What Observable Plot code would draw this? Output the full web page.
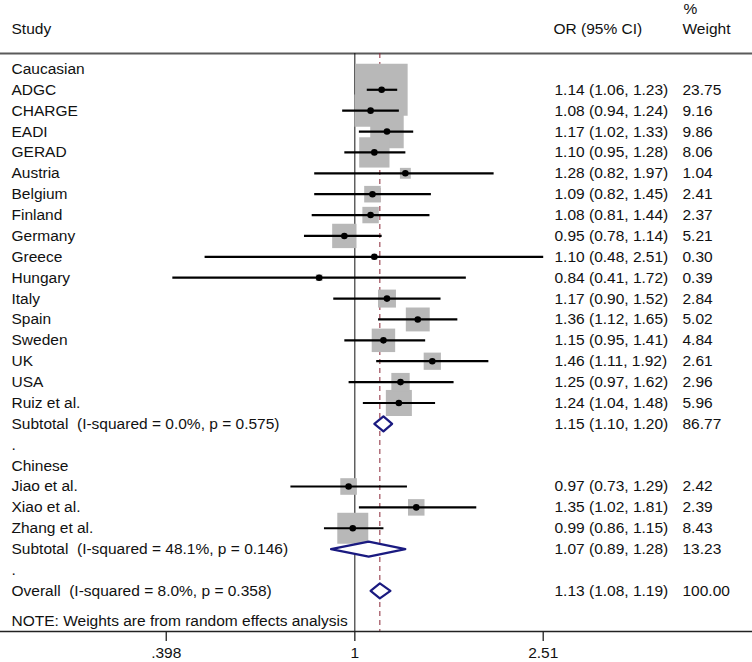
<!DOCTYPE html>
<html>
<head>
<meta charset="utf-8">
<script src="https://cdn.jsdelivr.net/npm/d3@7"></script>
<script src="https://cdn.jsdelivr.net/npm/@observablehq/plot@0.6"></script>
<style>
  html, body { margin: 0; padding: 0; background: #fff; }
  #chart svg { display: block; }
</style>
</head>
<body>
<div id="chart"></div>
<script>
// ---- data (row order top to bottom) ----
const rowLabels = [
  "Caucasian", "ADGC", "CHARGE", "EADI", "GERAD", "Austria", "Belgium", "Finland",
  "Germany", "Greece", "Hungary", "Italy", "Spain", "Sweden", "UK", "USA", "Ruiz et al.",
  "Subtotal  (I-squared = 0.0%, p = 0.575)", ".", "Chinese", "Jiao et al.", "Xiao et al.",
  "Zhang et al.", "Subtotal  (I-squared = 48.1%, p = 0.146)", ".",
  "Overall  (I-squared = 8.0%, p = 0.358)"
];
const rowKind = [
  "label", "study", "study", "study", "study", "study", "study", "study",
  "study", "study", "study", "study", "study", "study", "study", "study", "study",
  "diamond", "label", "label", "study", "study",
  "study", "diamond", "label",
  "diamond"
];
const rowOR = [
  null, 1.14, 1.08, 1.17, 1.10, 1.28, 1.09, 1.08,
  0.95, 1.10, 0.84, 1.17, 1.36, 1.15, 1.46, 1.25, 1.24,
  1.15, null, null, 0.97, 1.35,
  0.99, 1.07, null,
  1.13
];
const rowLow = [
  null, 1.06, 0.94, 1.02, 0.95, 0.82, 0.82, 0.81,
  0.78, 0.48, 0.41, 0.90, 1.12, 0.95, 1.11, 0.97, 1.04,
  1.10, null, null, 0.73, 1.02,
  0.86, 0.89, null,
  1.08
];
const rowHigh = [
  null, 1.23, 1.24, 1.33, 1.28, 1.97, 1.45, 1.44,
  1.14, 2.51, 1.72, 1.52, 1.65, 1.41, 1.92, 1.62, 1.48,
  1.20, null, null, 1.29, 1.81,
  1.15, 1.28, null,
  1.19
];
const rowWeight = [
  null, 23.75, 9.16, 9.86, 8.06, 1.04, 2.41, 2.37,
  5.21, 0.30, 0.39, 2.84, 5.02, 4.84, 2.61, 2.96, 5.96,
  86.77, null, null, 2.42, 2.39,
  8.43, 13.23, null,
  100.00
];
const noteText = "NOTE: Weights are from random effects analysis";
const tickValues = [0.398, 1, 2.51];
const tickLabels = [".398", "1", "2.51"];
const overallOR = 1.13;

// ---- tables built from the arrays ----
const rows = rowLabels.map((label, i) => ({
  i, label, kind: rowKind[i], or: rowOR[i], lo: rowLow[i], hi: rowHigh[i], w: rowWeight[i]
}));
const studies = rows.filter(d => d.kind === "study");
const diamonds = rows.filter(d => d.kind === "diamond");
const valued = rows.filter(d => d.or != null);
const half = 0.36; // diamond half-height in row units
const diamondPts = diamonds.flatMap(d => [
  {x: d.lo, y: d.i, z: d.i},
  {x: d.or, y: d.i - half, z: d.i},
  {x: d.hi, y: d.i, z: d.i},
  {x: d.or, y: d.i + half, z: d.i},
  {x: d.lo, y: d.i, z: d.i}
]);
const fmt = v => v.toFixed(2);
const tickLabelMap = new Map(tickValues.map((v, k) => [v, tickLabels[k]]));

const FS = 15.5;
const chart = Plot.plot({
  width: 752,
  height: 662,
  marginLeft: 0,
  marginRight: 0,
  marginTop: 53,
  marginBottom: 31,
  style: {fontFamily: "'Liberation Sans', Arial, sans-serif", fontSize: FS + "px", color: "#111", background: "#fff"},
  x: {type: "log", domain: [0.1771, 6.978], range: [0, 752], axis: null},
  y: {type: "linear", domain: [0, 25], range: [68.4, 590.4], axis: null},
  r: {type: "sqrt", domain: [0, 100], range: [0, 60.2]},
  marks: [
    Plot.frame({anchor: "top", stroke: "#5a5a5a", strokeWidth: 2}),
    Plot.ruleX([1], {stroke: "#111", strokeWidth: 1}),
    Plot.ruleX([overallOR], {stroke: "#8a2636", strokeWidth: 1, strokeDasharray: "5,4"}),
    // weight boxes
    Plot.dot(studies, {x: "or", y: "i", r: "w", symbol: "square", fill: "#b8b8b8", stroke: "none"}),
    // confidence intervals
    Plot.link(studies, {x1: "lo", x2: "hi", y1: "i", y2: "i", stroke: "#000", strokeWidth: 2.2}),
    // point estimates
    Plot.dot(studies, {x: "or", y: "i", r: 3.3, fill: "#000", stroke: "none"}),
    // pooled diamonds
    Plot.line(diamondPts, {x: "x", y: "y", z: "z", fill: "#fff", stroke: "#1a1a80", strokeWidth: 2.2, curve: "linear"}),
    // bottom axis
    Plot.frame({anchor: "bottom", stroke: "#222", strokeWidth: 1.3}),
    Plot.axisX({anchor: "bottom", ticks: tickValues, tickFormat: d => tickLabelMap.get(d),
      tickSize: 10, tickPadding: 5, fontSize: FS, stroke: "#222", strokeWidth: 1.3, fill: "#111"}),
    // left text column
    Plot.text(rows, {y: "i", text: "label", frameAnchor: "left", dx: 11, textAnchor: "start", fill: "#111", fontSize: FS}),
    // OR (95% CI) column
    Plot.text(valued, {y: "i", text: d => `${fmt(d.or)} (${fmt(d.lo)}, ${fmt(d.hi)})`, frameAnchor: "left", dx: 554, textAnchor: "start", fill: "#111", fontSize: FS}),
    // % Weight column
    Plot.text(valued, {y: "i", text: d => fmt(d.w), frameAnchor: "left", dx: 682, textAnchor: "start", fill: "#111", fontSize: FS}),
    // headers
    Plot.text(["Study"], {text: d => d, frameAnchor: "top-left", dx: 11, dy: -24, lineAnchor: "middle", textAnchor: "start", fill: "#111", fontSize: FS}),
    Plot.text(["OR (95% CI)"], {text: d => d, frameAnchor: "top-left", dx: 553, dy: -24, lineAnchor: "middle", textAnchor: "start", fill: "#111", fontSize: FS}),
    Plot.text(["Weight"], {text: d => d, frameAnchor: "top-left", dx: 682, dy: -24, lineAnchor: "middle", textAnchor: "start", fill: "#111", fontSize: FS}),
    Plot.text(["%"], {text: d => d, frameAnchor: "top-left", dx: 683, dy: -44, lineAnchor: "middle", textAnchor: "start", fill: "#111", fontSize: FS}),
    // note
    Plot.text([noteText], {text: d => d, frameAnchor: "bottom-left", dx: 11, dy: -10, lineAnchor: "middle", textAnchor: "start", fill: "#111", fontSize: FS})
  ]
});
document.getElementById("chart").appendChild(chart);
</script>
</body>
</html>
